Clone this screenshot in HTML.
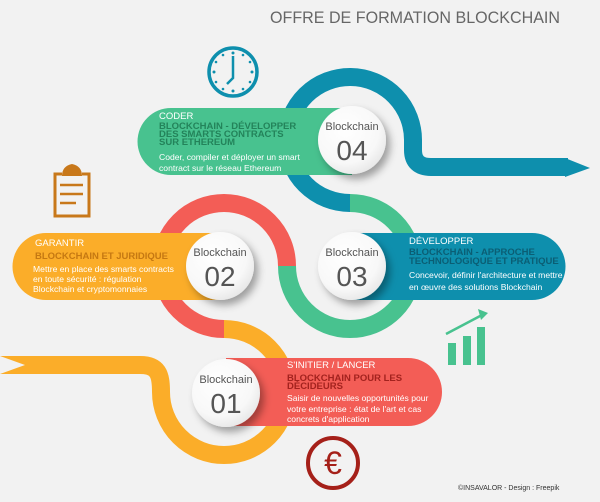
<!DOCTYPE html>
<html><head><meta charset="utf-8"><style>
html,body{margin:0;padding:0;background:#f2f2f2;}
svg{display:block;font-family:"Liberation Sans",sans-serif;}
</style></head><body>
<svg width="600" height="502" viewBox="0 0 600 502" xmlns="http://www.w3.org/2000/svg">
<defs>
<filter id="sh" x="-40%" y="-40%" width="180%" height="180%">
<feDropShadow dx="4" dy="5" stdDeviation="4" flood-color="#000" flood-opacity="0.35"/>
</filter>
<radialGradient id="cg" cx="40%" cy="35%" r="70%">
<stop offset="0" stop-color="#ffffff"/><stop offset="0.7" stop-color="#f8f8f8"/><stop offset="1" stop-color="#e6e6e6"/>
</radialGradient>
</defs>
<rect width="600" height="502" fill="#f2f2f2"/>
<text x="270" y="23" font-size="17" fill="#666" textLength="290" lengthAdjust="spacingAndGlyphs">OFFRE DE FORMATION BLOCKCHAIN</text>

<!-- rings -->
<g fill="none" stroke-width="18">
<path d="M413 140 L413 150 Q413 167 431 167 L568 167" stroke="#0e8fad"/>
<polygon points="565,158 590,168 565,177" fill="#0e8fad" stroke="none"/>
<path d="M413 141 A63 63 0 1 0 350 203" stroke="#0e8fad"/>
<path d="M350 203 A63 63 0 1 1 287 266" stroke="#48c28f"/>
<path d="M287 266 A63 63 0 1 0 224 329" stroke="#f35d56"/>
<path d="M224 329 A63 63 0 1 1 161 392 C161 374 158 365 140 365 L0 365" stroke="#fbad29"/>
</g>
<polygon points="0,356 25,365 0,374" fill="#f2f2f2"/>

<!-- pills -->
<path d="M171 108 L352 108 L352 175 L171 175 A33.5 33.5 0 0 1 171 108 Z" fill="#48c28f"/>
<path d="M46 233 L220 233 L220 300 L46 300 A33.5 33.5 0 0 1 46 233 Z" fill="#fbad29"/>
<path d="M352 233 L532 233 A33.5 33.5 0 0 1 532 300 L352 300 Z" fill="#0e8fad"/>
<path d="M226 358 L408 358 A34 34 0 0 1 408 426 L226 426 Z" fill="#f35d56"/>

<!-- circles -->
<g filter="url(#sh)" fill="url(#cg)">
<circle cx="352" cy="140" r="34"/>
<circle cx="220" cy="266" r="34"/>
<circle cx="352" cy="266" r="34"/>
<circle cx="226" cy="393" r="34"/>
</g>
<g fill="#555" text-anchor="middle">
<text x="352" y="130" font-size="11">Blockchain</text><text x="352" y="160" font-size="28">04</text>
<text x="220" y="256" font-size="11">Blockchain</text><text x="220" y="286" font-size="28">02</text>
<text x="352" y="256" font-size="11">Blockchain</text><text x="352" y="286" font-size="28">03</text>
<text x="226" y="383" font-size="11">Blockchain</text><text x="226" y="413" font-size="28">01</text>
</g>

<!-- texts -->
<g font-size="8.6">
<text x="159" y="119" fill="#fff" font-size="9.5">CODER</text>
<g fill="#23835a" font-weight="bold" font-size="9.5">
<text x="159" y="129">BLOCKCHAIN - DÉVELOPPER</text>
<text x="159" y="137">DES SMARTS CONTRACTS</text>
<text x="159" y="145">SUR ETHEREUM</text></g>
<text x="159" y="160" fill="#fff">Coder, compiler et déployer un smart</text>
<text x="159" y="171" fill="#fff">contract sur le réseau Ethereum</text>

<text x="35" y="246" fill="#fff" font-size="9.5">GARANTIR</text>
<text x="35" y="259" fill="#c57812" font-weight="bold" font-size="9.5">BLOCKCHAIN ET JURIDIQUE</text>
<text x="33" y="272" fill="#fff">Mettre en place des smarts contracts</text>
<text x="33" y="282" fill="#fff">en toute sécurité  :  régulation</text>
<text x="33" y="292" fill="#fff">Blockchain et cryptomonnaies</text>

<text x="409" y="244" fill="#fff" font-size="9.5">DÉVELOPPER</text>
<g fill="#0b5e74" font-weight="bold" font-size="9.5">
<text x="409" y="255">BLOCKCHAIN - APPROCHE</text>
<text x="409" y="264">TECHNOLOGIQUE ET PRATIQUE</text></g>
<text x="409" y="278" fill="#fff">Concevoir, définir  l'architecture et mettre</text>
<text x="409" y="290" fill="#fff">en œuvre des solutions Blockchain</text>

<text x="287" y="368" fill="#fff" font-size="9.5">S'INITIER /  LANCER</text>
<g fill="#a3221e" font-weight="bold" font-size="9.5">
<text x="287" y="381">BLOCKCHAIN POUR LES</text>
<text x="287" y="389">DÉCIDEURS</text></g>
<text x="287" y="401" fill="#fff">Saisir de nouvelles opportunités pour</text>
<text x="287" y="412" fill="#fff">votre entreprise : état de l'art et cas</text>
<text x="287" y="422" fill="#fff">concrets d'application</text>
</g>

<!-- clock -->
<g stroke="#0e8fad" fill="none">
<circle cx="233" cy="72" r="24" stroke-width="3.5"/>
<path d="M233 56 V78 L227 84" stroke-width="2.5"/>
</g>
<g fill="#0e8fad">
<circle cx="233" cy="53" r="1.5"/><circle cx="233" cy="91" r="1.5"/><circle cx="214" cy="72" r="1.5"/><circle cx="252" cy="72" r="1.5"/>
<circle cx="243" cy="55" r="1.3"/><circle cx="250" cy="62" r="1.3"/><circle cx="250" cy="82" r="1.3"/><circle cx="243" cy="89" r="1.3"/>
<circle cx="223" cy="55" r="1.3"/><circle cx="216" cy="62" r="1.3"/><circle cx="216" cy="82" r="1.3"/><circle cx="223" cy="89" r="1.3"/>
</g>

<!-- clipboard -->
<g fill="none" stroke="#c8781a" stroke-width="3">
<path d="M62 174 H55 V216 H89 V174 H82"/>
<path d="M60 185 H83 M60 194 H83 M60 203 H76" stroke-width="2.5"/>
</g>
<path d="M62 176 Q62 166 72 164 Q82 166 82 176 Z" fill="#c8781a"/>

<!-- chart -->
<g fill="#48c28f">
<rect x="448" y="343" width="8" height="22"/>
<rect x="463" y="336" width="8" height="29"/>
<rect x="477" y="327" width="8" height="38"/>
<polygon points="478,309 488,313 481,320"/>
</g>
<line x1="446" y1="334" x2="482" y2="315" stroke="#48c28f" stroke-width="2.5"/>

<!-- euro -->
<circle cx="333" cy="463" r="25" fill="none" stroke="#a52019" stroke-width="4"/>
<text x="333" y="474" text-anchor="middle" font-size="32" fill="#a52019">€</text>

<text x="458" y="490" font-size="7" fill="#333">©INSAVALOR - Design : Freepik</text>
</svg>
</body></html>
